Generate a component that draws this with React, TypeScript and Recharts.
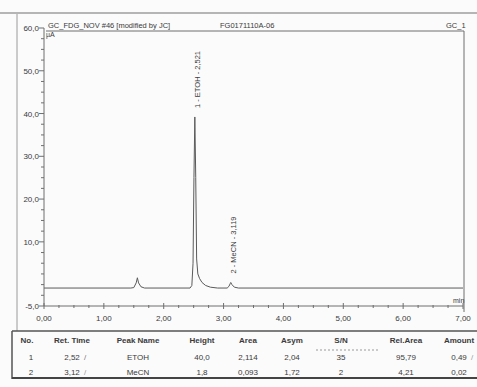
import React from 'react';
import { ComposedChart, Line, XAxis, YAxis, ReferenceDot } from 'recharts';

// chromatogram trace (min, µA)
const traceTime = [0, 1.45, 1.5, 1.54, 1.56, 1.58, 1.62, 1.68, 2.44, 2.47, 2.49, 2.505, 2.52, 2.535, 2.55, 2.57, 2.6, 2.64, 2.7, 2.78, 2.9, 3.06, 3.09, 3.11, 3.12, 3.14, 3.18, 3.25, 7];
const traceSignal = [-0.8, -0.8, -0.7, 0.4, 1.6, 0.4, -0.5, -0.8, -0.8, -0.2, 5, 25, 39.2, 25, 6, 2.5, 1.4, 0.5, -0.2, -0.6, -0.8, -0.8, -0.4, 0.2, 0.5, 0.0, -0.6, -0.8, -0.8];

// peak annotations
const peakTimes = [2.52, 3.12];
const peakHeights = [39.2, 0.5];
const peakLabels = ['1 - ETOH - 2,521', '2 - MeCN - 3,119'];

const xMajor = [0, 1, 2, 3, 4, 5, 6, 7];
const xMinor = [0.25, 0.5, 0.75, 1.25, 1.5, 1.75, 2.25, 2.5, 2.75, 3.25, 3.5, 3.75, 4.25, 4.5, 4.75, 5.25, 5.5, 5.75, 6.25, 6.5, 6.75];
const yMajor = [-5, 10, 20, 30, 40, 50, 60];
const yMinor = [-2.5, 0, 2.5, 5, 7.5, 12.5, 15, 17.5, 22.5, 25, 27.5, 32.5, 35, 37.5, 42.5, 45, 47.5, 52.5, 55, 57.5];

// result table
const headers = ['No.', 'Ret. Time', 'Peak Name', 'Height', 'Area', 'Asym', 'S/N', 'Rel.Area', 'Amount'];
const row1 = ['1', '2,52', 'ETOH', '40,0', '2,114', '2,04', '35', '95,79', '0,49'];
const row2 = ['2', '3,12', 'MeCN', '1,8', '0,093', '1,72', '2', '4,21', '0,02'];
const colX = [27, 72, 138, 202, 248, 292, 341, 406, 459];

const data = traceTime.map((t, i) => ({ t, v: traceSignal[i] }));
const fmt = (v: number, d: number) => v.toFixed(d).replace('.', ',');
const FONT = '"Liberation Sans", Arial, sans-serif';
const INK = '#3a3a3a';
const LINE = '#6e6e6e';

const XTick = (props: any) => {
  const { x, y, payload } = props;
  const major = xMajor.includes(payload.value);
  return (
    <g>
      <line x1={x} x2={x} y1={y - (major ? 3 : 1)} y2={y + (major ? 3 : 2)} stroke={LINE} />
      {major && (
        <text x={x} y={y + 15} textAnchor="middle" fontSize={8} fill={INK} fontFamily={FONT}>
          {fmt(payload.value, 2)}
        </text>
      )}
    </g>
  );
};

const YTick = (props: any) => {
  const { x, y, payload } = props;
  const major = yMajor.includes(payload.value);
  return (
    <g>
      <line x1={x - (major ? 5 : 3)} x2={x} y1={y} y2={y} stroke={LINE} />
      {major && (
        <text x={x - 5} y={y + 3} textAnchor="end" fontSize={8} fill={INK} fontFamily={FONT}>
          {fmt(payload.value, 1)}
        </text>
      )}
    </g>
  );
};

const PeakLabel = (text: string) => (props: any) => {
  const { viewBox } = props;
  const x = viewBox.x;
  const y = viewBox.y - 9;
  return (
    <text
      x={x + 3}
      y={y}
      transform={`rotate(-90 ${x + 3} ${y})`}
      textAnchor="start"
      dominantBaseline="central"
      fontSize={7.5}
      fill={INK}
      fontFamily={FONT}
    >
      {text}
    </text>
  );
};

export default function App() {
  return (
    <div style={{ position: 'absolute', left: 0, top: 0, width: 477, height: 387, background: '#fbfbfb' }}>
      <ComposedChart width={477} height={387} data={data} margin={{ top: 28, right: 14, bottom: 61, left: 14 }}>
        <XAxis
          dataKey="t"
          type="number"
          domain={[0, 7]}
          ticks={[...xMajor, ...xMinor].sort((a, b) => a - b)}
          interval={0}
          tickSize={0}
          tickMargin={0}
          height={20}
          tick={<XTick />}
          stroke={LINE}
          allowDataOverflow
        />
        <YAxis
          type="number"
          domain={[-5, 60]}
          ticks={[...yMajor, ...yMinor].sort((a, b) => a - b)}
          interval={0}
          tickSize={0}
          tickMargin={0}
          width={30}
          tick={<YTick />}
          stroke={LINE}
          allowDataOverflow
        />
        <Line dataKey="v" type="linear" stroke="#5a5a5a" strokeWidth={1} dot={false} isAnimationActive={false} />
        {peakTimes.map((t, i) => (
          <ReferenceDot key={i} x={t} y={peakHeights[i]} r={0} stroke="none" label={PeakLabel(peakLabels[i])} />
        ))}
      </ComposedChart>

      <svg width={477} height={387} style={{ position: 'absolute', left: 0, top: 0, pointerEvents: 'none' }} fontFamily={FONT}>
        {/* page frame */}
        <line x1={0} x2={477} y1={13} y2={13} stroke="#b5b5b5" strokeWidth={2} />
        <line x1={17} x2={17} y1={14} y2={331} stroke="#9a9a9a" />
        {/* plot header */}
        <text x={48} y={28} fontSize={7.5} fill={INK}>GC_FDG_NOV #46 [modified by JC]</text>
        <text x={220} y={28} fontSize={7.5} fill={INK}>FG0171110A-06</text>
        <text x={446} y={28} fontSize={7.5} fill={INK}>GC_1</text>
        <text x={46} y={37} fontSize={7} fill={INK}>µA</text>
        <line x1={46} x2={464} y1={31} y2={31} stroke={LINE} />
        <line x1={464} x2={464} y1={31} y2={312} stroke={LINE} />
        <text x={453} y={303} fontSize={7} fill={INK}>min</text>
        {/* table */}
        <line x1={12} x2={477} y1={331} y2={331} stroke="#555" strokeWidth={1.5} />
        <line x1={12} x2={12} y1={331} y2={379} stroke="#555" strokeWidth={1.5} />
        <line x1={12} x2={477} y1={378} y2={378} stroke="#444" strokeWidth={2} />
        <line x1={316} x2={378} y1={350} y2={350} stroke="#999" strokeDasharray="2 2" />
        {headers.map((h, i) => (
          <text key={h} x={colX[i]} y={343} textAnchor="middle" fontSize={8} fontWeight="bold" fill={INK}>{h}</text>
        ))}
        {row1.map((v, i) => (
          <text key={'a' + i} x={colX[i] + (i === 0 ? 4 : 0)} y={360} textAnchor="middle" fontSize={8} fill={INK}>{v}</text>
        ))}
        {row2.map((v, i) => (
          <text key={'b' + i} x={colX[i] + (i === 0 ? 4 : 0)} y={375} textAnchor="middle" fontSize={8} fill={INK}>{v}</text>
        ))}
        <text x={84} y={360} fontSize={8} fill="#777">/</text>
        <text x={84} y={375} fontSize={8} fill="#999">/</text>
        <text x={471} y={360} fontSize={8} fill="#999">/</text>
      </svg>
    </div>
  );
}
